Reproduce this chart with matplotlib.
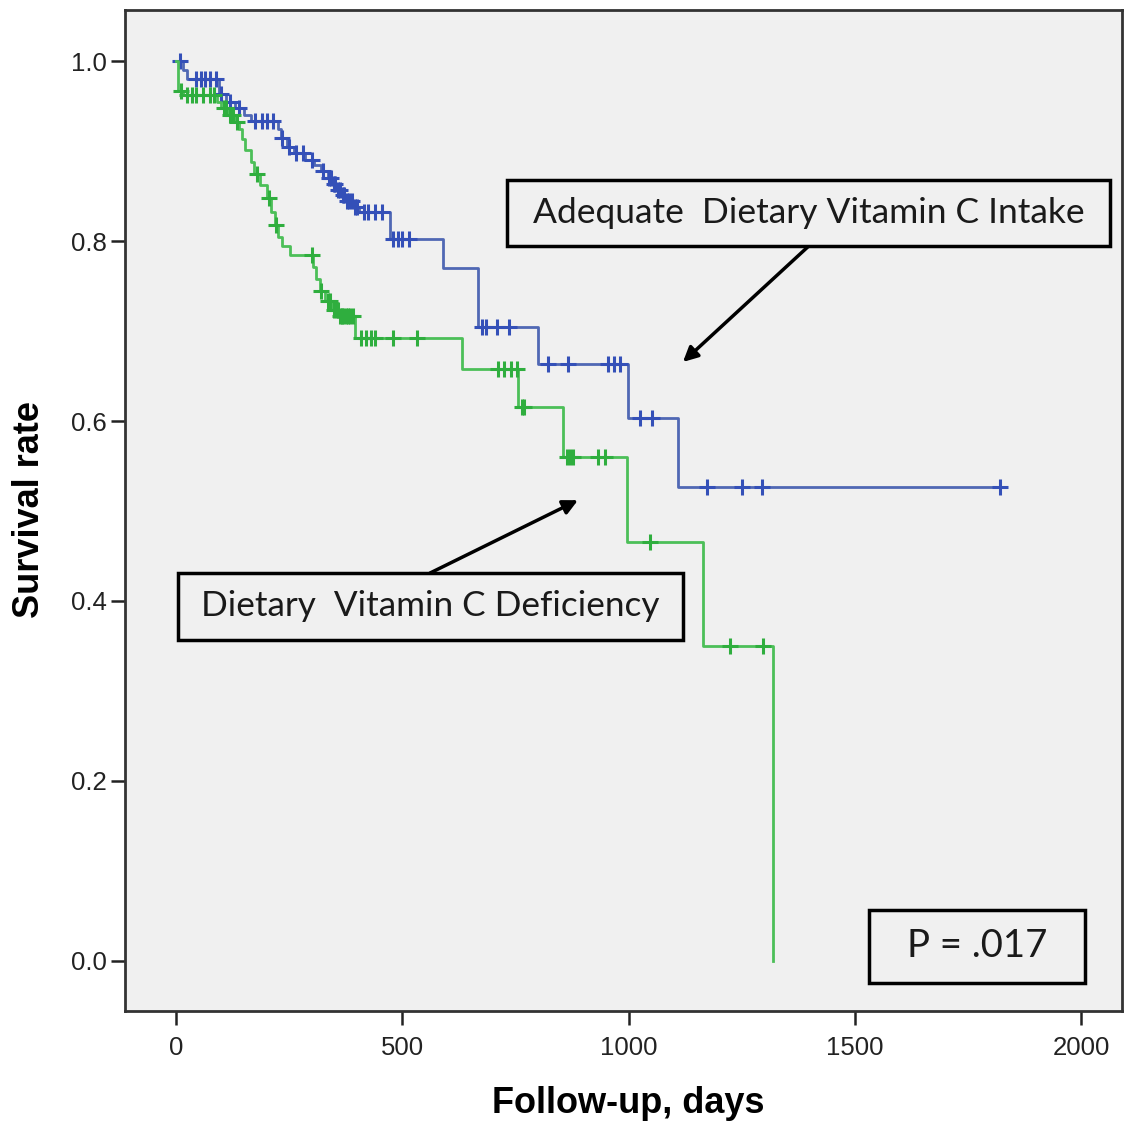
import numpy as np
import matplotlib
matplotlib.use("Agg")
import matplotlib.pyplot as plt
from matplotlib.patches import Rectangle

# Adequate dietary vitamin C intake (blue): event times / survival after event
ade_t = [15, 25, 95, 110, 130, 150, 165, 225, 232, 245, 260, 285, 305, 320,
         335, 345, 355, 365, 375, 390, 405, 473, 590, 668, 800, 998, 1110]
ade_s = [0.99, 0.98, 0.963, 0.955, 0.948, 0.94, 0.933, 0.925, 0.915, 0.905,
         0.898, 0.89, 0.885, 0.878, 0.87, 0.863, 0.857, 0.851, 0.845, 0.838,
         0.832, 0.802, 0.77, 0.705, 0.663, 0.603, 0.527]
ade_cens = [8, 45, 55, 65, 75, 88, 100, 120, 140, 175, 190, 200, 215, 235, 250,
            265, 280, 300, 325, 338, 342, 348, 352, 358, 362, 368, 372, 378,
            382, 388, 395, 400, 415, 425, 440, 455, 480, 490, 500, 515, 675,
            685, 710, 735, 822, 866, 955, 968, 982, 1025, 1052, 1173, 1250,
            1295, 1820]

# Dietary vitamin C deficiency (green)
def_t = [5, 15, 90, 100, 115, 130, 140, 145, 152, 165, 172, 185, 200, 210,
         218, 225, 235, 252, 303, 310, 318, 330, 345, 360, 395, 632, 755, 855,
         996, 1164, 1319]
def_s = [0.967, 0.962, 0.955, 0.948, 0.94, 0.932, 0.925, 0.913, 0.901, 0.888,
         0.875, 0.862, 0.848, 0.832, 0.818, 0.805, 0.795, 0.784, 0.771, 0.758,
         0.745, 0.733, 0.723, 0.717, 0.692, 0.658, 0.616, 0.56, 0.466, 0.35,
         0.0]
def_cens = [10, 25, 35, 45, 60, 75, 85, 105, 110, 120, 125, 135, 180, 205, 222,
            300, 320, 335, 340, 350, 355, 358, 362, 366, 370, 375, 380, 385,
            390, 408, 420, 430, 440, 480, 532, 712, 725, 740, 753, 764, 768,
            864, 870, 877, 932, 948, 1047, 1224, 1297]

xticks = [0, 500, 1000, 1500, 2000]
yticks = [0.0, 0.2, 0.4, 0.6, 0.8, 1.0]


def surv_at(times, surv, t):
    times = np.asarray(times)
    idx = np.searchsorted(times, t, side="right") - 1
    s = np.concatenate([[1.0], surv])
    return s[idx + 1]


fig = plt.figure(figsize=(11.25, 11.28), dpi=100)
ax = fig.add_axes([125 / 1125, 117 / 1128, 997 / 1125, 1001 / 1128])
ax.set_facecolor("#f0f0f0")

groups = [
    (ade_t, ade_s, ade_cens, "#5068b4", "#3450b8"),
    (def_t, def_s, def_cens, "#4cbf58", "#2fae3e"),
]
for t, s, cens, lc, mc in groups:
    tt = [0] + list(t)
    ss = [1.0] + list(s)
    if ss[-1] > 0:
        tt.append(max(cens))
        ss.append(ss[-1])
    ax.step(tt, ss, where="post", color=lc, lw=2)
    cy = surv_at(t, s, np.array(cens))
    ax.plot(cens, cy, ls="none", marker="+", ms=12, mew=2.2, color=mc)

ax.set_xlim(-112.7, 2090)
ax.set_ylim(-0.0556, 1.0567)
ax.set_xticks(xticks)
ax.set_xticklabels([str(v) for v in xticks], family="Liberation Sans")
ax.set_yticks(yticks)
ax.set_yticklabels([f"{v:.1f}" for v in yticks], family="Liberation Sans")
ax.tick_params(axis="x", direction="out", length=10, width=1.8, pad=8,
               labelsize=18.5, colors="#222222")
ax.tick_params(axis="y", direction="out", length=10, width=1.8, pad=3,
               labelsize=18.5, colors="#222222")
for sp in ax.spines.values():
    sp.set_color("#333333")
    sp.set_linewidth(2)

ax.set_xlabel("Follow-up, days", fontsize=26, fontweight="bold",
              family="Liberation Sans", va="center")
ax.xaxis.set_label_coords(0.5045, -0.092)
ax.set_ylabel("Survival rate", fontsize=26, fontweight="bold",
              family="Liberation Sans", va="center")
ax.yaxis.set_label_coords(-0.0953, 0.5005)

box_font = "Lato"
# boxes (data coords)
boxes = [
    (731.5, 0.794, 2064 - 731.5, 0.074, "Adequate  Dietary Vitamin C Intake", 25.5),
    (4.4, 0.357, 1120 - 4.4, 0.074, "Dietary  Vitamin C Deficiency", 25.3),
    (1531, -0.0244, 2009 - 1531, 0.081, "P = .017", 27.5),
]
for x0, y0, w, h, txt, fs in boxes:
    ax.add_patch(Rectangle((x0, y0), w, h, facecolor="#f0f0f0",
                           edgecolor="black", lw=2.5, zorder=5))
    ax.text(x0 + w / 2, y0 + h / 2, txt, ha="center", va="center",
            fontsize=fs, family=box_font, color="#1a1a1a", zorder=6)

ax.annotate("", xy=(1120, 0.6656), xytext=(1397, 0.794),
            arrowprops=dict(arrowstyle="-|>", color="black", lw=2.5,
                            mutation_scale=22, shrinkA=0, shrinkB=0))
ax.annotate("", xy=(888, 0.512), xytext=(561, 0.431),
            arrowprops=dict(arrowstyle="-|>", color="black", lw=2.5,
                            mutation_scale=22, shrinkA=0, shrinkB=0))

fig.savefig("out.png", dpi=100)
